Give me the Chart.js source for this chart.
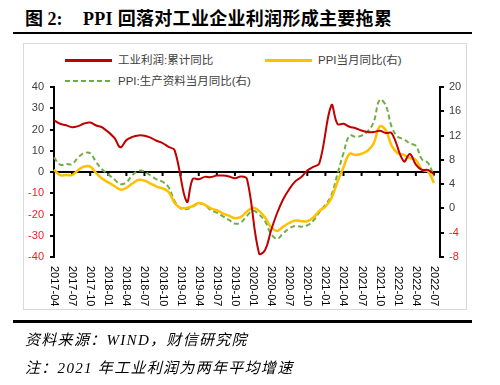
<!DOCTYPE html>
<html>
<head>
<meta charset="utf-8">
<script src="https://cdn.jsdelivr.net/npm/chart.js@4.4.1/dist/chart.umd.min.js"></script>
<style>
body { margin: 0; background: #fff; }
#page { position: relative; width: 500px; height: 385px; overflow: hidden; font-family: "Liberation Sans", "Noto Sans CJK SC", sans-serif; }
.abs { position: absolute; white-space: nowrap; }
#title { left: 25px; top: 9px; font: bold 18px/20px "Liberation Serif", "Noto Sans CJK SC", serif; color: #000; }
#title2 { left: 83px; top: 9px; font: bold 18px/20px "Liberation Serif", "Noto Sans CJK SC", serif; color: #000; letter-spacing: 0.3px; }
.rule { position: absolute; left: 13px; width: 459px; background: #000; }
#box { position: absolute; left: 23px; top: 43px; width: 442px; height: 265px; border: 1px solid #d9d9d9; }
.lg { position: absolute; height: 3px; width: 47px; }
.lgt { font-size: 11.5px; line-height: 14px; color: #404040; }
.foot { left: 25px; font: italic 15px/18px "Liberation Serif", "Noto Sans CJK SC", serif; color: #000; letter-spacing: 1.3px; }
canvas { position: absolute; left: 0; top: 0; }
</style>
</head>
<body>
<div id="page">
  <div class="abs" id="title">图 2:</div>
  <div class="abs" id="title2">PPI 回落对工业企业利润形成主要拖累</div>
  <div class="rule" style="top:32px;height:2px"></div>
  <div id="box"></div>
  <div id="legend"></div>
  <canvas id="chart" width="500" height="385"></canvas>
  <div class="rule" style="top:320px;height:3px"></div>
  <div class="abs foot" style="top:331px">资料来源：WIND，财信研究院</div>
  <div class="abs foot" style="top:359px">注：2021 年工业利润为两年平均增速</div>
</div>
<script>
// months 2017-04 .. 2022-08 (last one is empty, just room before the right axis)
const months = [
  '2017-04','2017-05','2017-06','2017-07','2017-08','2017-09','2017-10','2017-11','2017-12',
  '2018-01','2018-02','2018-03','2018-04','2018-05','2018-06','2018-07','2018-08','2018-09','2018-10','2018-11','2018-12',
  '2019-01','2019-02','2019-03','2019-04','2019-05','2019-06','2019-07','2019-08','2019-09','2019-10','2019-11','2019-12',
  '2020-01','2020-02','2020-03','2020-04','2020-05','2020-06','2020-07','2020-08','2020-09','2020-10','2020-11','2020-12',
  '2021-01','2021-02','2021-03','2021-04','2021-05','2021-06','2021-07','2021-08','2021-09','2021-10','2021-11','2021-12',
  '2022-01','2022-02','2022-03','2022-04','2022-05','2022-06','2022-07','2022-08'
];

const seriesNames = ['工业利润:累计同比', 'PPI当月同比(右)', 'PPI:生产资料当月同比(右)'];

// 工业利润 累计同比 (no January figure)
const profitYoy = [
  24.4, 22.7, 22.0, 21.1, 21.6, 22.8, 23.3, 21.9, 21.0,
  null, 16.1, 11.6, 15.0, 16.5, 17.2, 17.1, 16.2, 14.7, 13.6, 11.8, 10.3,
  null, -14.0, -3.3, -3.4, -2.3, -2.4, -1.7, -1.7, -2.1, -2.9, -2.1, -3.3,
  null, -38.3, -36.7, -27.4, -19.3, -12.8, -8.1, -4.4, -2.4, 0.7, 2.4, 4.1,
  null, 31.4, 22.6, 22.7, 21.3, 20.6, 19.5, 18.8, 18.8, 19.4, 18.4, 18.2,
  null, 5.0, 8.5, 3.5, 1.0, 1.0, -1.1
];

const ppiYoy = [
  6.4, 5.5, 5.5, 5.5, 6.3, 6.9, 6.9, 5.8, 4.9,
  4.3, 3.7, 3.1, 3.4, 4.1, 4.7, 4.6, 4.1, 3.6, 3.3, 2.7, 0.9,
  0.1, 0.1, 0.4, 0.9, 0.6, 0.0, -0.3, -0.8, -1.2, -1.6, -1.4, -0.5,
  0.1, -0.4, -1.5, -3.1, -3.7, -3.0, -2.4, -2.0, -2.1, -2.1, -1.5, -0.4,
  0.3, 1.7, 4.4, 6.8, 9.0, 8.8, 9.0, 9.5, 10.7, 13.5, 12.9, 10.3,
  9.1, 8.8, 8.3, 8.0, 6.4, 6.1, 4.2
];

const ppiProducerYoy = [
  8.4, 7.2, 7.3, 7.3, 8.4, 9.1, 9.1, 7.6, 6.4,
  5.6, 4.8, 4.0, 4.3, 5.5, 6.2, 6.1, 5.4, 4.8, 4.4, 3.5, 1.2,
  0.0, -0.1, 0.3, 0.8, 0.6, -0.3, -0.7, -1.3, -1.9, -2.5, -2.3, -1.2,
  -0.4, -1.0, -2.1, -4.2, -5.0, -4.1, -3.3, -2.9, -3.0, -2.8, -2.0, -0.6,
  0.6, 2.2, 5.7, 9.1, 12.0, 11.8, 12.0, 12.7, 14.2, 17.9, 17.0, 13.4,
  11.8, 11.4, 10.7, 10.3, 8.1, 7.5, 5.3
];

const colors = ['#c00000', '#ffc000', '#70ad47'];

// html legend, laid out like the original
const legendPos = [[65, 60], [265, 60], [65, 81]];
const legend = document.getElementById('legend');
seriesNames.forEach(function (name, i) {
    let line = document.createElement('div');
    line.className = 'lg';
    line.style.left = legendPos[i][0] + 'px';
    line.style.top = (legendPos[i][1] - 1.5) + 'px';
    if (i == 2) {
        line.style.background = 'repeating-linear-gradient(90deg,' + colors[i] + ' 0 5px, transparent 5px 8px)';
        line.style.height = '2.5px';
    } else {
        line.style.background = colors[i];
    }
    legend.appendChild(line);
    let txt = document.createElement('div');
    txt.className = 'abs lgt';
    txt.style.left = (legendPos[i][0] + 53) + 'px';
    txt.style.top = (legendPos[i][1] - 7.5) + 'px';
    txt.textContent = name;
    legend.appendChild(txt);
});

function tickColor(ctx) {
    return ctx.tick && ctx.tick.value < 0 ? '#ee1c25' : '#404040';
}

// ticks hanging off the zero line + vertical month labels
const quarterMarks = {
    id: 'quarterMarks',
    beforeDatasetsDraw(chart) {
        let x = chart.scales.x, y0 = chart.scales.y.getPixelForValue(0);
        let ctx = chart.ctx;
        ctx.save();
        ctx.strokeStyle = '#000';
        ctx.lineWidth = 2;
        months.forEach(function (m, i) {
            if (i % 3 || i >= profitYoy.length) return;
            let px = x.getPixelForValue(i);
            ctx.beginPath();
            ctx.moveTo(px, y0);
            ctx.lineTo(px, y0 + 4);
            ctx.stroke();
        });
        ctx.restore();
    },
    afterDraw(chart) {
        let x = chart.scales.x;
        let ctx = chart.ctx;
        ctx.save();
        ctx.fillStyle = '#000';
        ctx.font = '11px "Liberation Sans"';
        ctx.textAlign = 'left';
        ctx.textBaseline = 'middle';
        months.forEach(function (m, i) {
            if (i % 3 || i >= profitYoy.length) return;
            ctx.save();
            ctx.translate(x.getPixelForValue(i), chart.chartArea.bottom + 9);
            ctx.rotate(Math.PI / 2);
            ctx.fillText(m, 0, 0);
            ctx.restore();
        });
        ctx.restore();
    }
};

const chart = new Chart(document.getElementById('chart'), {
    type: 'line',
    data: {
        labels: months,
        datasets: [{
            label: seriesNames[0],
            data: profitYoy,
            yAxisID: 'y',
            borderColor: colors[0],
            borderWidth: 2,
            spanGaps: true
        }, {
            label: seriesNames[1],
            data: ppiYoy,
            yAxisID: 'y1',
            borderColor: colors[1],
            borderWidth: 2.5
        }, {
            label: seriesNames[2],
            data: ppiProducerYoy,
            yAxisID: 'y1',
            borderColor: colors[2],
            borderWidth: 2,
            borderDash: [5, 3]
        }]
    },
    options: {
        responsive: false,
        animation: false,
        devicePixelRatio: 1,
        elements: { point: { radius: 0 }, line: { tension: 0.4, borderCapStyle: 'butt' } },
        layout: { padding: { top: 87, left: 0, right: 0, bottom: 0 } },
        plugins: { legend: { display: false }, tooltip: { enabled: false } },
        scales: {
            x: {
                type: 'category',
                offset: false,
                ticks: { display: false },
                grid: { display: false },
                border: { display: false },
                afterFit(s) { s.height = 128; }
            },
            y: {
                position: 'left',
                min: -40,
                max: 40,
                ticks: { stepSize: 10, color: tickColor, padding: 6, font: { family: 'Liberation Sans', size: 11 } },
                grid: {
                    color: (ctx) => ctx.tick && ctx.tick.value === 0 ? '#000' : 'rgba(0,0,0,0)',
                    lineWidth: 2,
                    tickColor: '#000',
                    tickWidth: 2,
                    tickLength: 4
                },
                border: { color: '#000', width: 2 },
                afterFit(s) { s.width = 54; }
            },
            y1: {
                position: 'right',
                min: -8,
                max: 20,
                ticks: { stepSize: 4, color: tickColor, padding: 5, font: { family: 'Liberation Sans', size: 11 } },
                grid: { drawOnChartArea: false, color: '#000', lineWidth: 2, tickLength: 4 },
                border: { color: '#000', width: 2 },
                afterFit(s) { s.width = 60; }
            }
        }
    },
    plugins: [quarterMarks]
});
</script>
</body>
</html>
